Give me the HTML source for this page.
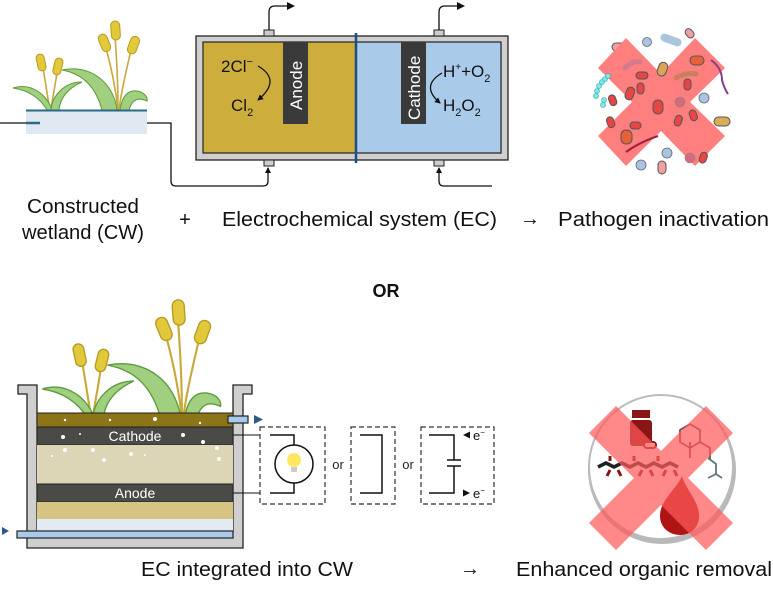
<!DOCTYPE html>
<html><head><meta charset="utf-8"><style>
html,body{margin:0;padding:0;background:#fff;}
svg{display:block;font-family:"Liberation Sans",Arial,sans-serif;}
</style></head><body>
<svg width="773" height="590" viewBox="0 0 773 590" xmlns="http://www.w3.org/2000/svg">
<defs>
<marker id="ah" markerWidth="8" markerHeight="8" refX="6" refY="4" orient="auto" markerUnits="userSpaceOnUse"><path d="M0,0 L8,4 L0,8 z" fill="#111"/></marker>
<marker id="ah2" markerWidth="6" markerHeight="6" refX="5" refY="3" orient="auto" markerUnits="userSpaceOnUse"><path d="M0,0 L6,3 L0,6 z" fill="#111"/></marker>
<g id="plants">
  <!-- stems -->
  <g stroke="#c9a93a" stroke-width="1.6" fill="none">
    <path d="M43,68 C46,85 48,100 50,110"/>
    <path d="M57,72 C55,88 52,100 51,110"/>
    <path d="M106,48 C112,70 116,92 118,110"/>
    <path d="M115,36 C117,62 118,88 118,110"/>
    <path d="M131,50 C126,72 121,92 119,110"/>
  </g>
  <!-- leaves -->
  <path d="M13,88 C32,82 48,96 52,110 L47,110 C40,98 28,90 13,88z" fill="#9fcf7f" stroke="#5a9a3c" stroke-width="1"/>
  <path d="M82,82 C64,82 52,96 51,110 L59,110 C60,98 68,88 82,82z" fill="#9fcf7f" stroke="#5a9a3c" stroke-width="1"/>
  <path d="M62,70 C92,64 114,84 117,110 L102,110 C96,88 84,74 62,70z" fill="#9fcf7f" stroke="#5a9a3c" stroke-width="1"/>
  <path d="M120,110 C122,96 128,90 137,91 C144,92 148,97 147,101 C140,98 133,97 129,110z" fill="#9fcf7f" stroke="#5a9a3c" stroke-width="1"/>
  <!-- heads -->
  <g fill="#e2c93b" stroke="#b89a20" stroke-width="1">
    <rect x="37" y="54" width="8" height="17" rx="4" transform="rotate(-12 41 62)"/>
    <rect x="54" y="58" width="8" height="17" rx="4" transform="rotate(14 58 66)"/>
    <rect x="100" y="34" width="9" height="18" rx="4.5" transform="rotate(-22 104 43)"/>
    <rect x="111" y="21" width="9" height="19" rx="4.5" transform="rotate(-4 115 30)"/>
    <rect x="129" y="36" width="9" height="18" rx="4.5" transform="rotate(20 133 45)"/>
  </g>
</g>
</defs>

<!-- ===== TOP: CW ===== -->
<use href="#plants"/>
<rect x="26" y="110" width="121" height="24" fill="#dfe8f0"/>
<line x1="26" y1="110.5" x2="147" y2="110.5" stroke="#2a6a86" stroke-width="2"/>
<line x1="0" y1="123" x2="28" y2="123" stroke="#111" stroke-width="1.2"/>
<line x1="26" y1="123" x2="40" y2="123" stroke="#2a6a86" stroke-width="2.5"/>
<path d="M147,123 H171 V181 Q171,186 176,186 H263 Q268,186 268,181 V168" fill="none" stroke="#111" stroke-width="1.3" marker-end="url(#ah2)"/>

<!-- EC box -->
<rect x="196" y="36" width="312" height="124" fill="#cfcfcf" stroke="#222" stroke-width="1.3"/>
<rect x="203" y="42" width="153" height="111" fill="#cdae3c" stroke="#222" stroke-width="1.2"/>
<rect x="356" y="42" width="145" height="111" fill="#a9cbe9" stroke="#222" stroke-width="1.2"/>
<line x1="356" y1="33" x2="356" y2="163" stroke="#1d4c86" stroke-width="2.5"/>
<rect x="283" y="42" width="25" height="82" fill="#3a3a3a"/>
<text transform="translate(302,110) rotate(-90)" font-size="17" fill="#fff">Anode</text>
<rect x="401" y="42" width="25" height="82" fill="#3a3a3a"/>
<text transform="translate(420,120) rotate(-90)" font-size="17" fill="#fff">Cathode</text>
<!-- ports -->
<rect x="264" y="30" width="10" height="6" fill="#ccc" stroke="#222" stroke-width="1"/>
<rect x="434" y="30" width="10" height="6" fill="#ccc" stroke="#222" stroke-width="1"/>
<rect x="264" y="160" width="10" height="6" fill="#ccc" stroke="#222" stroke-width="1"/>
<rect x="434" y="160" width="10" height="6" fill="#ccc" stroke="#222" stroke-width="1"/>
<path d="M269,30 V12 Q269,6 275,6 H293" fill="none" stroke="#111" stroke-width="1.3" marker-end="url(#ah)"/>
<path d="M439,30 V12 Q439,6 445,6 H463" fill="none" stroke="#111" stroke-width="1.3" marker-end="url(#ah)"/>
<path d="M492,186 H444 Q439,186 439,181 V168" fill="none" stroke="#111" stroke-width="1.3" marker-end="url(#ah2)"/>
<!-- reactions -->
<text x="221" y="72" font-size="17" fill="#111">2Cl<tspan font-size="11" dy="-7">−</tspan></text>
<text x="231" y="111" font-size="17" fill="#111">Cl<tspan font-size="11" dy="5">2</tspan></text>
<path d="M258,66 Q282,80 258,100" fill="none" stroke="#111" stroke-width="1.3" marker-end="url(#ah2)"/>
<text x="443" y="77" font-size="17" fill="#111">H<tspan font-size="10" dy="-7">+</tspan><tspan dy="7">+O</tspan><tspan font-size="11" dy="5">2</tspan></text>
<text x="443" y="111" font-size="17" fill="#111">H<tspan font-size="11" dy="5">2</tspan><tspan dy="-5">O</tspan><tspan font-size="11" dy="5">2</tspan></text>
<path d="M442,73 Q420,86 440,103" fill="none" stroke="#111" stroke-width="1.3" marker-end="url(#ah2)"/>

<!-- pathogen X -->
<g>
  <circle cx="647" cy="42" r="4.5" fill="#a9c4e0" stroke="#667" stroke-width="0.8"/>
  <rect x="660" y="36" width="22" height="8" rx="4" fill="#a9c4dd" transform="rotate(20 671 40)"/>
  <rect x="685" y="30" width="10" height="7" rx="3.5" fill="#f0a0a0" stroke="#555" transform="rotate(50 690 33)"/>
  <rect x="612" y="43" width="14" height="8" rx="4" fill="#f0a0a0" stroke="#555"/>
  <polygon points="598,68 626,38 661,74 695,38 725,68 690,102 725,136 695,166 661,131 626,166 598,136 632,102" fill="#ff7f7f"/>
  <g fill="#e84545" stroke="#555" stroke-width="1">
    <rect x="690" y="56" width="14" height="9" rx="4.5" fill="#e8603a"/>
    <rect x="658" y="62" width="9" height="14" rx="4.5" fill="#d9a35a" transform="rotate(20 662 69)"/>
    <rect x="636" y="72" width="12" height="7" rx="3.5"/>
    <rect x="626" y="87" width="8" height="13" rx="4" transform="rotate(20 630 93)"/>
    <rect x="637" y="83" width="7" height="11" rx="3.5"/>
    <rect x="653" y="100" width="10" height="14" rx="5"/>
    <rect x="684" y="79" width="7" height="11" rx="3.5"/>
    <rect x="690" y="110" width="7" height="11" rx="3.5" transform="rotate(-20 693 116)"/>
    <rect x="675" y="115" width="7" height="11" rx="3.5" transform="rotate(20 678 120)"/>
    <rect x="630" y="122" width="11" height="7" rx="3.5"/>
    <rect x="621" y="130" width="11" height="14" rx="5" fill="#e8603a"/>
    <rect x="607" y="117" width="7" height="11" rx="3.5" transform="rotate(-20 610 122)"/>
    <rect x="609" y="95" width="7" height="11" rx="3.5" transform="rotate(-20 612 100)"/>
    <rect x="700" y="152" width="7" height="11" rx="3.5" transform="rotate(20 703 157)"/>
    <rect x="658" y="161" width="8" height="13" rx="4" fill="#f0a0a0"/>
    <rect x="714" y="117" width="16" height="9" rx="4.5" fill="#d9ab5a"/>
  </g>
  <circle cx="680" cy="102" r="5" fill="#d46a7a" stroke="#888" stroke-width="0.6"/>
  <circle cx="704" cy="98" r="5" fill="#a9c4e0" stroke="#667" stroke-width="0.8"/>
  <circle cx="667" cy="153" r="5" fill="#a9c4e0" stroke="#667" stroke-width="0.8"/>
  <circle cx="641" cy="165" r="5" fill="#a9c4e0" stroke="#667" stroke-width="0.8"/>
  <circle cx="690" cy="158" r="5" fill="#d46a7a" stroke="#888" stroke-width="0.6"/>
  <path d="M625,68 Q633,60 640,62" stroke="#d47a88" stroke-width="5" fill="none" stroke-linecap="round"/>
  <path d="M676,78 Q686,72 696,74" stroke="#c88060" stroke-width="5" fill="none" stroke-linecap="round"/>
  <path d="M711,60 Q722,68 722,80 Q724,88 728,94" stroke="#8a3a8a" stroke-width="2" fill="none"/>
  <path d="M626,152 Q640,142 658,136" stroke="#a02040" stroke-width="2.2" fill="none"/>
  <g fill="#7fe7e7" stroke="#3aa" stroke-width="0.6">
    <circle cx="603" cy="105" r="2.5"/><circle cx="604" cy="100" r="2.5"/><circle cx="596" cy="96" r="2.5"/><circle cx="597" cy="91" r="2.5"/><circle cx="599" cy="86" r="2.5"/><circle cx="602" cy="82" r="2.5"/><circle cx="605" cy="79" r="2.5"/><circle cx="608" cy="76" r="2.5"/>
  </g>
</g>

<!-- labels top -->
<g font-size="20" fill="#111">
  <text x="83" y="213" text-anchor="middle" textLength="112" lengthAdjust="spacingAndGlyphs">Constructed</text>
  <text x="83" y="239" text-anchor="middle" textLength="122" lengthAdjust="spacingAndGlyphs">wetland (CW)</text>
  <text x="185" y="226" text-anchor="middle">+</text>
  <text x="222" y="226" textLength="275" lengthAdjust="spacingAndGlyphs">Electrochemical system (EC)</text>
  <text x="530" y="225" text-anchor="middle" font-size="20">→</text>
  <text x="558" y="226" textLength="211" lengthAdjust="spacingAndGlyphs">Pathogen inactivation</text>
  <text x="386" y="297" text-anchor="middle" font-weight="bold" font-size="18">OR</text>
</g>

<!-- ===== BOTTOM: tank ===== -->
<path d="M18,385 H37 V531 H233 V385 H252 V394 H243 V548 H27 V394 H18 Z" fill="#cfcfcf" stroke="#222" stroke-width="1.3"/>
<use href="#plants" transform="translate(25,272) scale(1.33)"/>
<rect x="37" y="413" width="196" height="14" fill="#8c7418" stroke="#222" stroke-width="1"/>
<rect x="37" y="427" width="196" height="18" fill="#4a4a47" stroke="#222" stroke-width="1"/>
<rect x="37" y="445" width="196" height="39" fill="#dcd6b6"/>
<rect x="37" y="484" width="196" height="18" fill="#4a4a47" stroke="#222" stroke-width="1"/>
<rect x="37" y="502" width="196" height="17" fill="#d7c483"/>
<rect x="37" y="519" width="196" height="12" fill="#e3ebf2"/>
<text x="135" y="441" text-anchor="middle" font-size="14" fill="#fff">Cathode</text>
<text x="135" y="498" text-anchor="middle" font-size="14" fill="#fff">Anode</text>
<g fill="#fff">
  <circle cx="65" cy="420" r="1.2"/><circle cx="110" cy="420" r="1.2"/><circle cx="155" cy="419" r="2"/><circle cx="200" cy="423" r="1.2"/>
  <circle cx="63" cy="437" r="2"/><circle cx="183" cy="435" r="2"/><circle cx="203" cy="442" r="2"/><circle cx="80" cy="434" r="1"/>
  <circle cx="93" cy="450" r="2"/><circle cx="104" cy="460" r="2"/><circle cx="131" cy="454" r="2"/><circle cx="217" cy="448" r="2"/><circle cx="219" cy="459" r="2"/><circle cx="65" cy="450" r="2"/><circle cx="52" cy="456" r="1"/><circle cx="145" cy="455" r="1"/>
</g>
<rect x="17" y="531" width="216" height="7" fill="#a9cbe9" stroke="#222" stroke-width="1.2"/>
<polygon points="2,527 9,531 2,535" fill="#2a5a8a"/>
<rect x="228" y="416" width="20" height="7" fill="#a9cbe9" stroke="#222" stroke-width="1.2"/>
<polygon points="254,415 263,419.5 254,424" fill="#2a5a8a"/>
<!-- wires -->
<line x1="233" y1="435" x2="260" y2="435" stroke="#111" stroke-width="1"/>
<line x1="233" y1="493" x2="260" y2="493" stroke="#111" stroke-width="1"/>
<g fill="none" stroke="#333" stroke-width="1.2" stroke-dasharray="5,3">
  <rect x="260" y="427" width="65" height="77"/>
  <rect x="351" y="427" width="44" height="77"/>
  <rect x="421" y="427" width="73" height="77"/>
</g>
<g fill="none" stroke="#111" stroke-width="1.5">
  <path d="M270,435 H294 V445"/><path d="M270,493 H294 V483"/>
  <circle cx="294" cy="464" r="19" fill="#fff"/>
  <path d="M360,435 H382 V493 H360"/>
  <path d="M429,435 H454 V460 M447,460 H461 M447,466 H461 M454,466 V493 H429"/>
</g>
<circle cx="294" cy="460" r="7" fill="#ffe860"/>
<rect x="291" y="467" width="6" height="5" fill="#ccc"/>
<text x="338" y="469" text-anchor="middle" font-size="13" fill="#222">or</text>
<text x="408" y="469" text-anchor="middle" font-size="13" fill="#222">or</text>
<polygon points="463,435 470,431.5 470,438.5" fill="#111"/>
<text x="473" y="440" font-size="13" fill="#111">e<tspan font-size="8" dy="-5">−</tspan></text>
<polygon points="470,493 463,489.5 463,496.5" fill="#111"/>
<text x="473" y="498" font-size="13" fill="#111">e<tspan font-size="8" dy="-5">−</tspan></text>

<!-- organic circle -->
<circle cx="662" cy="470" r="74" fill="#888" opacity="0.6"/>
<circle cx="661" cy="467" r="72" fill="#fff" stroke="#bbb" stroke-width="2"/>
<g fill="#8a1515">
  <rect x="632" y="410" width="18" height="8"/>
  <rect x="630" y="420" width="22" height="26" rx="3"/>
  <rect x="644" y="442" width="12" height="6" rx="3" fill="#fff" stroke="#8a1515" stroke-width="2"/>
</g>
<g fill="none" stroke="#7a4a4a" stroke-width="1.8">
  <path d="M680,430 l10,-6 10,6 0,12 -10,6 -10,-6z M690,448 l0,-6 M700,442 l10,6 0,12 M690,448 l0,10"/>
</g>
<g fill="none" stroke="#5a7a7a" stroke-width="1.8"><path d="M708,458 l8,6 0,10 -8,4 M716,474 l6,4"/></g>
<g stroke="#222" stroke-width="3.5" fill="none"><path d="M598,467 l8,-4 8,4 8,-4 8,4 8,-4 8,4 8,-4 8,4 8,-4 8,4"/></g>
<g stroke="#8a1515" stroke-width="3" fill="none"><path d="M610,470 l-3,6 M618,470 l3,6 M642,470 l-3,6 M650,470 l3,6 M666,470 l-3,6 M674,470 l3,6 M610,461 l0,-5 M634,461 l0,-5 M658,461 l0,-5"/></g>
<path d="M682,476 C676,490 660,500 660,516 C660,528 670,535 680,535 C692,535 700,526 699,514 C698,500 686,490 682,476z" fill="#b01515"/>
<polygon points="589,433 616,406 661,451 706,406 733,433 688,478 733,523 706,550 661,505 616,550 589,523 634,478" fill="#ff5a5a" opacity="0.72"/>

<!-- labels bottom -->
<g font-size="20" fill="#111">
  <text x="141" y="576" textLength="212" lengthAdjust="spacingAndGlyphs">EC integrated into CW</text>
  <text x="470" y="575" text-anchor="middle" font-size="20">→</text>
  <text x="516" y="576" textLength="256" lengthAdjust="spacingAndGlyphs">Enhanced organic removal</text>
</g>
</svg>
</body></html>
